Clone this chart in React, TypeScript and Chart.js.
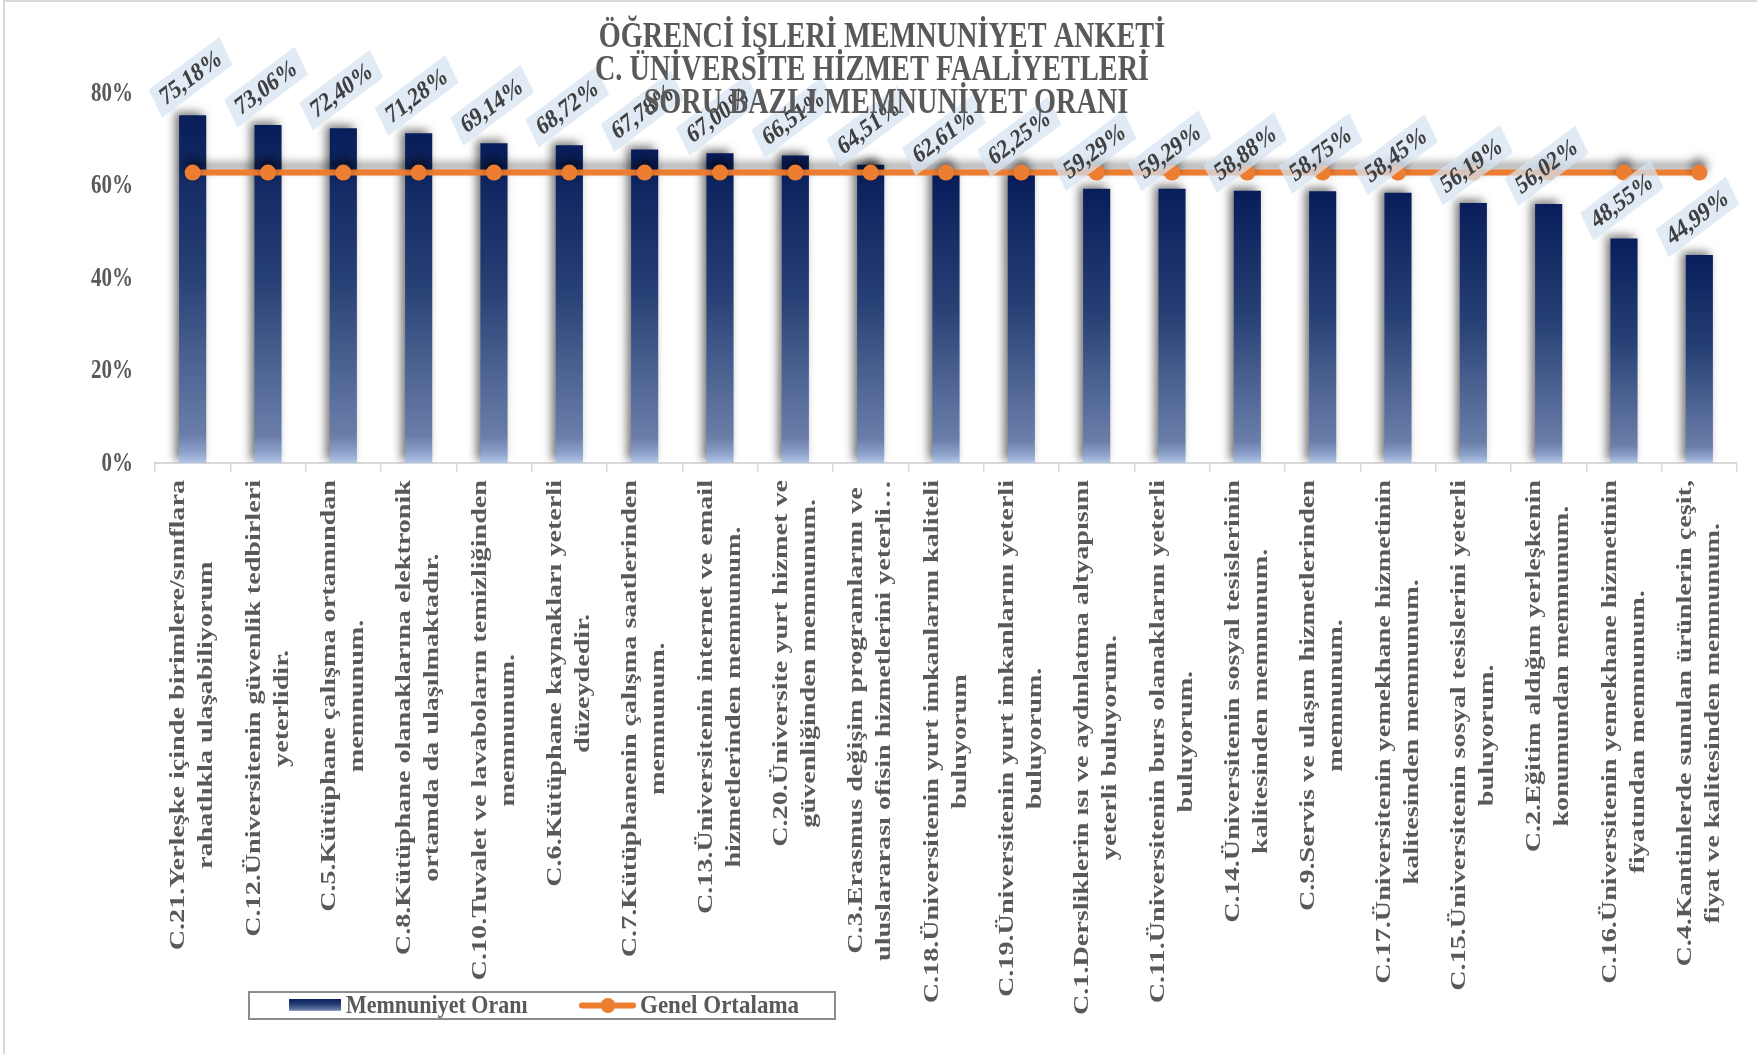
import React, { useEffect, useRef } from "react";
import { Chart, registerables } from "chart.js";

Chart.register(...registerables);

const titleLines = [
  "ÖĞRENCİ İŞLERİ MEMNUNİYET ANKETİ",
  "C. ÜNİVERSİTE HİZMET FAALİYETLERİ",
  "SORU BAZLI MEMNUNİYET ORANI",
];

const categories: string[][] = [
  ["C.21.Yerleşke içinde birimlere/sınıflara", "rahatlıkla ulaşabiliyorum"],
  ["C.12.Üniversitenin güvenlik tedbirleri", "yeterlidir."],
  ["C.5.Kütüphane çalışma ortamından", "memnunum."],
  ["C.8.Kütüphane olanaklarına elektronik", "ortamda da ulaşılmaktadır."],
  ["C.10.Tuvalet ve lavaboların temizliğinden", "memnunum."],
  ["C.6.Kütüphane kaynakları yeterli", "düzeydedir."],
  ["C.7.Kütüphanenin çalışma saatlerinden", "memnunum."],
  ["C.13.Üniversitenin internet ve email", "hizmetlerinden memnunum."],
  ["C.20.Üniversite yurt hizmet ve", "güvenliğinden memnunum."],
  ["C.3.Erasmus değişim programlarını ve", "uluslararası ofisin hizmetlerini yeterli…"],
  ["C.18.Üniversitenin yurt imkanlarını kaliteli", "buluyorum"],
  ["C.19.Üniversitenin yurt imkanlarını yeterli", "buluyorum."],
  ["C.1.Dersliklerin ısı ve aydınlatma altyapısını", "yeterli buluyorum."],
  ["C.11.Üniversitenin burs olanaklarını yeterli", "buluyorum."],
  ["C.14.Üniversitenin sosyal tesislerinin", "kalitesinden memnunum."],
  ["C.9.Servis ve ulaşım hizmetlerinden", "memnunum."],
  ["C.17.Üniversitenin yemekhane hizmetinin", "kalitesinden memnunum."],
  ["C.15.Üniversitenin sosyal tesislerini yeterli", "buluyorum."],
  ["C.2.Eğitim aldığım yerleşkenin", "konumundan memnunum."],
  ["C.16.Üniversitenin yemekhane hizmetinin", "fiyatından memnunum."],
  ["C.4.Kantinlerde sunulan ürünlerin çeşit,", "fiyat ve kalitesinden memnunum."],
];

const satisfaction = [
  75.18, 73.06, 72.4, 71.28, 69.14, 68.72, 67.78, 67.0, 66.51, 64.51, 62.61,
  62.25, 59.29, 59.29, 58.88, 58.75, 58.45, 56.19, 56.02, 48.55, 44.99,
];

const generalAverage = [
  62.8, 62.8, 62.8, 62.8, 62.8, 62.8, 62.8, 62.8, 62.8, 62.8, 62.8, 62.8, 62.8,
  62.8, 62.8, 62.8, 62.8, 62.8, 62.8, 62.8, 62.8,
];

const yTickValues = [0, 20, 40, 60, 80];

const seriesNames = ["Memnuniyet Oranı", "Genel Ortalama"];

const SERIF = "'Liberation Serif', 'Times New Roman', serif";
const GRAY = "#595959";
const ORANGE = "#ED7D31";
const VSTRETCH = 1.25;

function barGradient(ctx: CanvasRenderingContext2D, top: number, bottom: number) {
  const g = ctx.createLinearGradient(0, top, 0, bottom);
  g.addColorStop(0, "#081d5a");
  g.addColorStop(0.45, "#263f74");
  g.addColorStop(0.92, "#6a7ea9");
  g.addColorStop(0.97, "#8ea3cc");
  g.addColorStop(1, "#b3c6e6");
  return g;
}

const decorPlugin = {
  id: "decor",
  beforeDraw(chart: any) {
    const ctx = chart.ctx;
    ctx.save();
    ctx.fillStyle = "#ffffff";
    ctx.fillRect(0, 0, chart.width, chart.height);
    ctx.strokeStyle = "#d9d9d9";
    ctx.lineWidth = 2;
    ctx.strokeRect(4, 1, chart.width + 10, chart.height + 10);
    ctx.restore();
  },
  beforeDatasetDraw(chart: any, args: any) {
    const ctx = chart.ctx;
    ctx.save();
    if (args.meta.type === "bar") {
      ctx.shadowColor = "rgba(0,0,0,0.55)";
      ctx.shadowBlur = 10;
      ctx.shadowOffsetX = -4;
      ctx.shadowOffsetY = -3;
    } else {
      ctx.shadowColor = "rgba(0,0,0,0.5)";
      ctx.shadowBlur = 10;
      ctx.shadowOffsetX = 0;
      ctx.shadowOffsetY = -6;
    }
  },
  afterDatasetDraw(chart: any) {
    chart.ctx.restore();
  },
  afterDatasetsDraw(chart: any) {
    const ctx = chart.ctx;
    const barIndex = chart.data.datasets.findIndex((d: any) => d.type === "bar");
    const meta = chart.getDatasetMeta(barIndex);
    ctx.save();
    ctx.font = `bold 21px ${SERIF}`;
    meta.data.forEach((el: any, i: number) => {
      const v = satisfaction[i];
      const txt = v.toFixed(2).replace(".", ",") + "%";
      const tw = ctx.measureText(txt).width;
      const w = tw + 14;
      const h = 26;
      ctx.save();
      ctx.translate(el.x - 2, el.y - 38);
      ctx.scale(1, VSTRETCH);
      ctx.rotate((-31 * Math.PI) / 180);
      ctx.fillStyle = "rgba(214,227,243,0.72)";
      ctx.fillRect(-w / 2, -h / 2, w, h);
      ctx.fillStyle = "#404040";
      ctx.textAlign = "center";
      ctx.textBaseline = "middle";
      ctx.fillText(txt, 0, 1);
      ctx.restore();
    });
    ctx.restore();
  },
  afterDraw(chart: any) {
    const ctx = chart.ctx;
    const xs = chart.scales.x;
    const ys = chart.scales.y;
    const axisY = chart.chartArea.bottom;

    // y tick labels
    ctx.save();
    ctx.fillStyle = GRAY;
    ctx.font = `bold 21px ${SERIF}`;
    ctx.textAlign = "right";
    ctx.textBaseline = "middle";
    yTickValues.forEach((v) => {
      ctx.save();
      ctx.translate(133, ys.getPixelForValue(v) + 1);
      ctx.scale(1, VSTRETCH);
      ctx.fillText(v + "%", 0, 0);
      ctx.restore();
    });
    ctx.restore();

    // category labels (vertical, multi-line, centred)
    ctx.save();
    ctx.fillStyle = GRAY;
    ctx.font = `bold 22px ${SERIF}`;
    categories.forEach((lines, i) => {
      const x = xs.getPixelForValue(i);
      const W = Math.max(...lines.map((l) => ctx.measureText(l).width));
      ctx.save();
      ctx.translate(x, axisY + 17);
      ctx.rotate(-Math.PI / 2);
      ctx.scale(1.28, 1);
      ctx.textAlign = "center";
      ctx.textBaseline = "middle";
      lines.forEach((line, k) => {
        ctx.fillText(line, -W / 2, (k - (lines.length - 1) / 2) * 28);
      });
      ctx.restore();
    });
    ctx.restore();

    // title
    ctx.save();
    ctx.fillStyle = GRAY;
    ctx.font = `bold 28px ${SERIF}`;
    ctx.textAlign = "center";
    ctx.textBaseline = "alphabetic";
    const centers = [882, 872, 886];
    const baselines = [47, 80, 113];
    titleLines.forEach((t, k) => {
      ctx.save();
      ctx.translate(centers[k], baselines[k]);
      ctx.scale(1.01, VSTRETCH);
      ctx.fillText(t, 0, 0);
      ctx.restore();
    });
    ctx.restore();

    // legend
    ctx.save();
    ctx.strokeStyle = "#8c8c8c";
    ctx.lineWidth = 2;
    ctx.strokeRect(249, 992, 586, 27);
    ctx.fillStyle = barGradient(ctx, 999, 1011);
    ctx.fillRect(289, 999, 52, 12);
    ctx.fillStyle = GRAY;
    ctx.font = `bold 22px ${SERIF}`;
    ctx.textAlign = "left";
    ctx.textBaseline = "alphabetic";
    ctx.save();
    ctx.translate(346, 1013);
    ctx.scale(1, 1.1);
    ctx.fillText(seriesNames[0], 0, 0);
    ctx.restore();
    ctx.strokeStyle = ORANGE;
    ctx.lineWidth = 6;
    ctx.lineCap = "round";
    ctx.beginPath();
    ctx.moveTo(582, 1005.5);
    ctx.lineTo(633, 1005.5);
    ctx.stroke();
    ctx.fillStyle = ORANGE;
    ctx.beginPath();
    ctx.arc(608, 1005.5, 7.5, 0, Math.PI * 2);
    ctx.fill();
    ctx.fillStyle = GRAY;
    ctx.font = `bold 23px ${SERIF}`;
    ctx.save();
    ctx.translate(640, 1013);
    ctx.scale(1, 1.1);
    ctx.fillText(seriesNames[1], 0, 0);
    ctx.restore();
    ctx.restore();
  },
};

export default function App() {
  const ref = useRef<HTMLCanvasElement | null>(null);

  useEffect(() => {
    document.body.style.margin = "0";
    if (!ref.current) return;
    const chart = new Chart(ref.current, {
      type: "bar",
      data: {
        labels: categories.map((c) => c.join(" ")),
        datasets: [
          {
            type: "line",
            label: seriesNames[1],
            data: generalAverage,
            borderColor: ORANGE,
            backgroundColor: ORANGE,
            borderWidth: 6,
            pointRadius: 8,
            pointHoverRadius: 8,
            pointBorderWidth: 0,
            pointBackgroundColor: ORANGE,
            order: 0,
          } as any,
          {
            type: "bar",
            label: seriesNames[0],
            data: satisfaction,
            backgroundColor: (c: any) => {
              const chart = c.chart;
              if (!chart.chartArea || c.raw === undefined) return "#0b2262";
              const ys = chart.scales.y;
              return barGradient(chart.ctx, ys.getPixelForValue(c.raw), ys.getPixelForValue(0));
            },
            barPercentage: 0.36,
            categoryPercentage: 1,
            order: 1,
          } as any,
        ],
      },
      options: {
        responsive: false,
        animation: false,
        devicePixelRatio: 1,
        layout: { padding: { left: 0, right: 20, top: 93, bottom: 0 } },
        plugins: {
          legend: { display: false },
          title: { display: false },
          tooltip: { enabled: false },
        },
        scales: {
          x: {
            grid: {
              display: true,
              drawOnChartArea: false,
              drawTicks: true,
              tickLength: 9,
              color: "#d9d9d9",
              lineWidth: 1.5,
              offset: true,
            },
            border: { display: true, color: "#d9d9d9", width: 2 },
            ticks: { display: false },
            afterFit: (s: any) => {
              s.height = 591;
            },
          },
          y: {
            min: 0,
            max: 80,
            afterBuildTicks: (s: any) => {
              s.ticks = yTickValues.map((v) => ({ value: v }));
            },
            ticks: { display: false },
            grid: { display: false },
            border: { display: false },
            afterFit: (s: any) => {
              s.width = 155;
            },
          },
        },
      },
      plugins: [decorPlugin],
    });
    return () => chart.destroy();
  }, []);

  return (
    <div style={{ position: "relative", width: 1757, height: 1054 }}>
      <canvas ref={ref} width={1757} height={1054} style={{ display: "block", width: 1757, height: 1054 }} />
    </div>
  );
}
